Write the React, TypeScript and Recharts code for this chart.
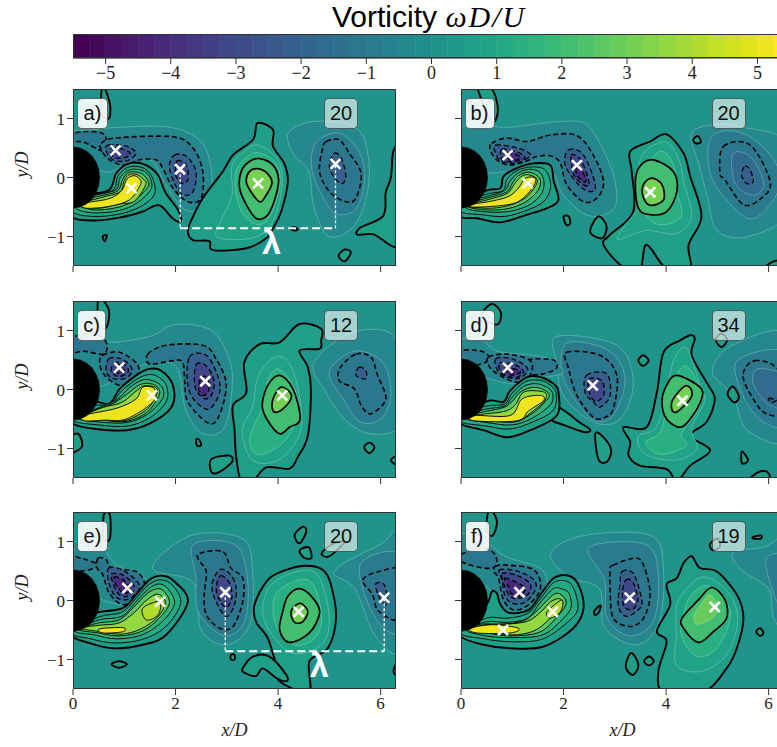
import React from "react"
import { ScatterChart, Scatter, XAxis, YAxis, CartesianGrid, ReferenceArea, Label } from "recharts"

type Contour = [number, number[]]

// colorbar
const CBAR_MIN = -5.5
const CBAR_STEP = 0.25
const CBAR_BANDS = 44
const CBAR_TICKS = [-5, -4, -3, -2, -1, 0, 1, 2, 3, 4, 5]
const VIRIDIS = ["#440154", "#471365", "#482475", "#463480", "#414487", "#3b528b", "#355f8d", "#2f6c8e", "#2a788e", "#25848e", "#21918c", "#1e9c89", "#22a884", "#2fb47c", "#44bf70", "#5ec962", "#7ad151", "#9bd93c", "#bddf26", "#dfe318", "#fde725"]

const X_TICKS = [0, 2, 4, 6]
const Y_TICKS = [-1, 0, 1]

const cylinder = [0, 0.52, 0.14, 0.5, 0.26, 0.45, 0.37, 0.37, 0.45, 0.26, 0.5, 0.14, 0.52, 0, 0.5, -0.14, 0.45, -0.26, 0.37, -0.37, 0.26, -0.45, 0.14, -0.5, 0, -0.52]

// level, then x,y pairs
const contoursA: Contour[] = [
  [-0.25, [-0.1, 0.75, 0.3, 0.8, 0.9, 0.85, 1.9, 0.85, 2.5, 0.6, 2.7, 0.1, 2.65, -0.45, 2.2, -0.55, 1.8, -0.1, 1.5, 0.3, 0.9, 0.15, 0.6, 0.1, 0, 0.3]],
  [-0.25, [4.2, 0.75, 4.7, 0.95, 5.5, 0.85, 5.75, 0.4, 5.75, -0.2, 5.5, -0.8, 5, -1, 4.7, -0.5, 4.6, 0.1, 4.3, 0.4]],
  [-0.75, [4.75, 0.6, 5.2, 0.75, 5.6, 0.4, 5.68, -0.1, 5.5, -0.55, 5.1, -0.6, 4.8, -0.2, 4.65, 0.2]],
  [-1, [4.94, 0.61, 5.19, 0.64, 5.39, 0.41, 5.62, 0.07, 5.52, -0.35, 5.32, -0.41, 5, -0.24, 4.81, 0.1, 4.87, 0.5]],
  [-2, [5.1, 0.41, 5.23, 0.33, 5.32, 0.05, 5.26, -0.1, 5.1, -0.01, 5, 0.21]],
  [-1, [-0.1, 0.72, 0.3, 0.78, 0.62, 0.72, 0.6, 0.45, 0.2, 0.6, -0.1, 0.6]],
  [-1, [0.55, 0.58, 0.84, 0.67, 1.95, 0.69, 2.34, 0.5, 2.53, 0.1, 2.5, -0.35, 2.24, -0.41, 1.95, -0.18, 1.75, 0.16, 1.62, 0.3, 1.3, 0.3, 1, 0.21, 0.71, 0.3, 0.55, 0.47]],
  [-2, [0.68, 0.55, 1.04, 0.53, 1.23, 0.41, 1.04, 0.28, 0.78, 0.3, 0.65, 0.44]],
  [-2, [1.98, 0.38, 2.21, 0.36, 2.4, 0.1, 2.34, -0.24, 2.14, -0.29, 1.98, -0.1, 1.88, 0.19]],
  [-3, [0.75, 0.5, 1, 0.47, 1.12, 0.4, 0.98, 0.33, 0.78, 0.35]],
  [-3, [2.03, 0.28, 2.2, 0.22, 2.25, -0.02, 2.12, -0.1, 2, 0.05]],
  [0.5, [0, -0.68, 0.4, -0.73, 0.9, -0.68, 1.35, -0.58, 1.68, -0.47, 1.95, -0.7, 2.1, -0.74, 2.05, -0.55, 1.8, -0.25, 1.65, 0.05, 1.4, 0.22, 1.1, 0.24, 0.85, 0.08, 0.72, -0.2, 0.4, -0.27, 0.1, -0.22, -0.1, -0.4]],
  [1, [0, -0.58, 0.4, -0.66, 0.9, -0.62, 1.3, -0.5, 1.58, -0.3, 1.57, -0.05, 1.4, 0.15, 1.1, 0.18, 0.88, 0.03, 0.8, -0.2, 0.5, -0.28, 0.1, -0.3]],
  [1.5, [0.05, -0.52, 0.4, -0.6, 0.9, -0.56, 1.25, -0.43, 1.52, -0.2, 1.5, 0, 1.35, 0.12, 1.1, 0.13, 0.92, 0, 0.85, -0.2, 0.55, -0.28, 0.15, -0.36]],
  [2.5, [0.1, -0.47, 0.45, -0.55, 0.9, -0.5, 1.2, -0.38, 1.47, -0.15, 1.42, 0, 1.3, 0.08, 1.1, 0.09, 0.97, -0.03, 0.88, -0.22, 0.6, -0.3, 0.2, -0.38]],
  [3.5, [0.15, -0.46, 0.5, -0.52, 0.9, -0.45, 1.2, -0.4, 1.42, -0.12, 1.37, -0.03, 1.25, 0.05, 1.1, 0.05, 1, -0.05, 0.92, -0.24, 0.6, -0.33, 0.25, -0.41]],
  [5, [0.2, -0.44, 0.7, -0.36, 0.95, -0.22, 1.05, -0.03, 1.2, 0.03, 1.32, -0.05, 1.3, -0.15, 1.1, -0.38, 0.7, -0.49, 0.25, -0.52]],
  [0.5, [3.6, 0.92, 3.9, 0.81, 3.9, 0.53, 4.12, 0.24, 4.19, -0.07, 4.06, -0.58, 3.9, -0.86, 3.77, -1.03, 3.38, -1.2, 2.73, -1.23, 2.66, -1.08, 2.34, -1.06, 2.24, -0.92, 2.31, -0.72, 2.53, -0.35, 2.92, 0.1, 3.12, 0.38, 3.51, 0.64]],
  [0.75, [3.62, 0.55, 4, 0.3, 4.08, -0.1, 3.95, -0.65, 3.7, -0.95, 3.3, -1.05, 2.8, -1, 2.9, -0.7, 3.1, -0.3, 3.1, 0.2, 3.35, 0.45]],
  [1.25, [3.62, 0.42, 3.95, 0.25, 4.04, -0.1, 3.85, -0.65, 3.6, -0.8, 3.3, -0.6, 3.17, -0.2, 3.2, 0.15, 3.4, 0.35]],
  [2, [3.64, 0.32, 3.9, 0.21, 4.01, -0.04, 3.92, -0.41, 3.77, -0.66, 3.57, -0.69, 3.38, -0.46, 3.25, -0.18, 3.28, 0.1, 3.44, 0.27]],
  [3, [3.6, 0.15, 3.79, 0.07, 3.88, -0.1, 3.73, -0.35, 3.64, -0.41, 3.47, -0.24, 3.38, -0.07, 3.44, 0.1]],
  [0.5, [6.4, 0.45, 6.25, 0.45, 6.2, 0, 6.1, -0.25, 6.05, -0.65, 5.6, -0.85, 5.55, -0.97, 5.85, -0.96, 6.4, -1.1]],
  [0.5, [5.18, -1.33, 5.3, -1.22, 5.42, -1.27, 5.3, -1.42]],
  [0.5, [0.58, 1.55, 0.72, 1.25, 0.7, 1, 0.55, 1.1]],
  [0.5, [4.25, -0.87, 4.32, -0.84, 4.38, -0.88, 4.32, -0.9]],
  [0.5, [0.58, -1, 0.66, -0.98, 0.62, -1.08]],
]
const markersA = [0.83, 0.46, 1.14, -0.18, 2.09, 0.14, 3.61, -0.1, 5.12, 0.23]
const lambdaA = [2.09, 0.14, 2.09, -0.86, 5.12, -0.86, 5.12, 0.23]

const contoursB: Contour[] = [
  [-0.25, [4.5, 0.75, 5, 0.9, 5.5, 0.85, 6.2, 0.7, 6.4, 0.3, 6.4, -0.6, 5.6, -1, 5, -0.9, 4.8, -0.3, 4.65, 0.2]],
  [-0.75, [4.9, 0.7, 5.5, 0.75, 6.1, 0.3, 6.2, -0.2, 5.7, -0.7, 5.2, -0.4, 4.85, 0.1]],
  [-1, [5.12, 0.53, 5.64, 0.55, 6.03, -0.07, 5.86, -0.35, 5.51, -0.46, 5.15, -0.04, 5.05, 0.07]],
  [-1.5, [5.3, 0.4, 5.65, 0.35, 5.9, -0.1, 5.7, -0.3, 5.35, -0.1]],
  [-2, [5.54, 0.19, 5.64, 0.13, 5.7, -0.07, 5.57, -0.1, 5.47, 0.05]],
  [-0.25, [-0.1, 0.8, 0.4, 0.9, 0.9, 0.85, 2, 0.95, 2.5, 0.85, 2.95, 0.1, 3, -0.5, 2.5, -0.65, 2, -0.3, 1.7, 0.15, 0.9, 0.1, 0.5, 0.1, 0, 0.4]],
  [-1, [0.6, 0.58, 0.9, 0.67, 1.29, 0.61, 1.74, 0.72, 2.26, 0.71, 2.58, 0.38, 2.78, -0.07, 2.65, -0.35, 2.39, -0.41, 2.06, -0.12, 1.94, 0.24, 1.74, 0.37, 1.45, 0.35, 1.35, 0.3, 0.96, 0.21, 0.7, 0.3, 0.57, 0.47]],
  [-2, [0.68, 0.55, 1.1, 0.5, 1.36, 0.38, 1.1, 0.25, 0.8, 0.27, 0.67, 0.42]],
  [-2, [2.1, 0.47, 2.39, 0.38, 2.62, -0.12, 2.52, -0.24, 2.29, -0.12, 2.03, 0.21]],
  [-3, [0.8, 0.48, 1.1, 0.43, 1.25, 0.33, 1, 0.27, 0.8, 0.3]],
  [-3, [2.15, 0.38, 2.35, 0.28, 2.5, -0.1, 2.38, -0.12, 2.2, 0.05]],
  [-4, [0.9, 0.42, 1.1, 0.38, 1.15, 0.32, 0.95, 0.3]],
  [-4, [2.28, 0.2, 2.43, 0, 2.4, -0.08, 2.25, 0.05]],
  [0.5, [0, -0.66, 0.31, -0.69, 0.77, -0.76, 1.29, -0.63, 1.68, -0.52, 1.9, -0.38, 1.81, -0.07, 1.74, 0.21, 1.42, 0.24, 1.09, 0.16, 0.83, 0.02, 0.77, -0.18, 0.54, -0.21, 0.12, -0.35]],
  [1, [0, -0.58, 0.4, -0.63, 0.85, -0.66, 1.3, -0.55, 1.62, -0.4, 1.75, -0.15, 1.65, 0.12, 1.4, 0.18, 1.1, 0.12, 0.9, -0.03, 0.82, -0.22, 0.5, -0.28, 0.1, -0.38]],
  [1.5, [0.1, -0.52, 0.45, -0.58, 0.9, -0.58, 1.3, -0.48, 1.55, -0.3, 1.62, -0.1, 1.55, 0.08, 1.35, 0.14, 1.12, 0.08, 0.95, -0.07, 0.85, -0.22, 0.5, -0.32, 0.15, -0.4]],
  [2.5, [0.15, -0.5, 0.5, -0.55, 0.9, -0.53, 1.25, -0.42, 1.5, -0.22, 1.55, -0.05, 1.45, 0.05, 1.3, 0.09, 1.12, 0.03, 1, -0.1, 0.88, -0.25, 0.5, -0.35, 0.2, -0.43]],
  [3.5, [0.25, -0.5, 0.6, -0.52, 0.95, -0.47, 1.25, -0.35, 1.45, -0.15, 1.48, -0.03, 1.35, 0.04, 1.2, 0.03, 1.05, -0.1, 0.9, -0.27, 0.55, -0.37, 0.25, -0.44]],
  [5, [0.18, -0.46, 0.6, -0.4, 0.93, -0.32, 1.12, -0.18, 1.26, -0.01, 1.45, -0.01, 1.42, -0.14, 1.25, -0.32, 1.03, -0.44, 0.6, -0.49, 0.2, -0.5]],
  [0.5, [4.01, 0.73, 4.34, 0.41, 4.47, 0.02, 4.69, -0.66, 4.44, -1.14, 4.47, -1.55, 4.01, -1.55, 3.62, -1.14, 3.49, -1.55, 3.14, -1.5, 2.78, -1.14, 2.91, -0.97, 3.36, -0.58, 3.33, 0.1, 3.3, 0.44, 3.69, 0.61]],
  [0.75, [4, 0.6, 4.25, 0.3, 4.35, -0.1, 4.5, -0.65, 4.2, -0.95, 3.6, -0.9, 3.05, -1.05, 3.3, -0.7, 3.5, -0.45, 3.45, 0.1, 3.6, 0.45]],
  [1.25, [3.9, 0.45, 4.15, 0.2, 4.2, -0.2, 4.3, -0.65, 3.9, -0.8, 3.6, -0.6, 3.6, 0.1]],
  [2, [3.75, 0.3, 4.14, 0.1, 4.21, -0.24, 4.01, -0.58, 3.69, -0.63, 3.46, -0.52, 3.4, -0.07, 3.49, 0.19]],
  [3, [3.72, -0.01, 3.92, -0.12, 3.95, -0.38, 3.69, -0.47, 3.55, -0.32, 3.56, -0.12]],
  [0.5, [2, -0.66, 2.1, -0.66, 2.13, -0.78, 2.05, -0.8]],
  [0.5, [2.52, -0.92, 2.68, -0.66, 2.84, -0.83, 2.75, -1.03]],
  [0.5, [4.53, 0.64, 4.62, 0.7, 4.68, 0.6, 4.58, 0.58]],
  [0.5, [5.95, -1.55, 6.1, -1.42, 6.45, -1.4, 6.45, -1.55]],
  [0.5, [0.32, 1.55, 0.6, 1.5, 0.72, 1.15, 0.6, 0.95]],
]
const markersB = [0.91, 0.38, 1.3, -0.1, 2.26, 0.21, 3.69, -0.25]

const contoursC: Contour[] = [
  [-0.25, [4.7, 0.45, 5.4, 0.95, 6.2, 0.95, 6.4, 0.3, 6.4, -0.6, 5.8, -0.75, 5.3, -0.5, 4.9, 0]],
  [-0.75, [5, 0.3, 5.5, 0.65, 6.05, 0.45, 6.2, -0.1, 6, -0.5, 5.6, -0.55, 5.3, -0.2]],
  [-1, [5.52, 0.6, 5.81, 0.55, 5.94, 0.24, 6.1, -0.16, 5.81, -0.41, 5.62, -0.27, 5.49, 0.01, 5.19, 0.15, 5.22, 0.38]],
  [-2, [5.58, 0.38, 5.71, 0.32, 5.71, 0.18, 5.52, 0.24]],
  [-0.25, [-0.1, 0.8, 0.4, 0.95, 0.7, 0.8, 1.5, 0.9, 2, 1.1, 2.7, 1, 3.05, 0.5, 3.1, 0, 2.95, -0.65, 2.55, -0.75, 2.2, -0.35, 2, 0.4, 1.3, 0.4, 0.5, 0.05, 0, 0.3]],
  [-1, [-0.1, 0.85, 0.4, 0.95, 0.65, 0.8, 0.6, 0.6, 0.2, 0.65, -0.1, 0.6]],
  [-1, [0.58, 0.58, 0.91, 0.63, 1.27, 0.41, 1.2, 0.18, 0.91, 0.07, 0.62, 0.24, 0.52, 0.44]],
  [-2, [0.7, 0.52, 0.95, 0.52, 1.15, 0.35, 1.05, 0.2, 0.8, 0.18, 0.65, 0.3]],
  [-3, [0.8, 0.45, 1, 0.43, 1.08, 0.3, 0.9, 0.22, 0.75, 0.3]],
  [-4, [0.87, 0.42, 0.97, 0.38, 1, 0.3, 0.87, 0.28]],
  [-1, [1.46, 0.6, 1.82, 0.75, 2.53, 0.75, 2.79, 0.52, 2.99, 0.07, 2.82, -0.5, 2.6, -0.55, 2.24, -0.21, 2.18, 0.12, 2.14, 0.46, 1.95, 0.49, 1.5, 0.43]],
  [-2, [2.27, 0.55, 2.6, 0.58, 2.82, 0.24, 2.86, -0.05, 2.66, -0.33, 2.4, -0.21, 2.24, 0.07]],
  [-3, [2.4, 0.42, 2.6, 0.4, 2.75, 0.15, 2.7, -0.1, 2.55, -0.15, 2.38, 0.05]],
  [-4, [2.5, 0.2, 2.62, 0.2, 2.65, 0, 2.55, -0.1, 2.45, 0]],
  [0.5, [0, -0.58, 0.45, -0.67, 1.04, -0.69, 1.49, -0.58, 1.92, -0.3, 1.95, 0.07, 1.72, 0.32, 1.49, 0.35, 1.23, 0.24, 0.91, 0.01, 0.71, -0.24, 0.39, -0.21, 0.05, -0.4]],
  [1, [0, -0.52, 0.5, -0.6, 1.05, -0.62, 1.5, -0.48, 1.82, -0.2, 1.82, 0.07, 1.65, 0.22, 1.45, 0.25, 1.2, 0.15, 0.9, -0.07, 0.75, -0.26, 0.4, -0.28]],
  [1.5, [0.1, -0.48, 0.5, -0.55, 1.05, -0.56, 1.45, -0.42, 1.75, -0.15, 1.73, 0.05, 1.55, 0.15, 1.35, 0.16, 1.1, 0.03, 0.85, -0.18, 0.5, -0.31]],
  [2.5, [0.15, -0.46, 0.6, -0.52, 1.05, -0.54, 1.45, -0.38, 1.68, -0.1, 1.65, 0.04, 1.5, 0.1, 1.3, 0.08, 1.05, -0.08, 0.8, -0.23, 0.5, -0.33, 0.2, -0.4]],
  [3.5, [0.2, -0.46, 0.65, -0.52, 1.05, -0.52, 1.45, -0.33, 1.62, -0.1, 1.62, 0.03, 1.38, 0.06, 1.2, -0.05, 0.95, -0.22, 0.6, -0.3, 0.25, -0.42]],
  [5, [0.2, -0.44, 0.84, -0.32, 1.23, -0.16, 1.36, 0.04, 1.59, 0.01, 1.56, -0.21, 1.04, -0.5, 0.6, -0.52, 0.23, -0.53]],
  [0.5, [4.42, 1.11, 4.84, 1.03, 4.84, 0.83, 4.81, 0.69, 4.42, 0.66, 4.58, 0.38, 4.64, 0.01, 4.58, -0.78, 4.38, -1.15, 4.22, -1.34, 3.77, -1.32, 3.51, -1.55, 3.28, -1.55, 3.18, -1.12, 3.15, -0.67, 3.12, -0.27, 3.38, -0.05, 3.34, 0.46, 3.64, 0.77, 4.03, 0.8]],
  [0.75, [4.1, 0.55, 4.3, 0.3, 4.45, -0.3, 4.4, -0.8, 4, -1.2, 3.5, -1.2, 3.3, -0.7, 3.5, -0.3, 3.6, 0.2, 3.85, 0.5]],
  [1.25, [4, 0.35, 4.3, 0.05, 4.4, -0.4, 4.1, -0.9, 3.6, -1.1, 3.45, -0.8, 3.75, -0.2, 3.8, 0.15]],
  [2, [4.03, 0.24, 4.29, 0.01, 4.43, -0.5, 4.22, -0.64, 4.03, -0.75, 3.8, -0.53, 3.69, -0.27, 3.8, 0.07]],
  [3, [4.06, 0.04, 4.25, -0.07, 4.22, -0.21, 4.03, -0.37, 3.9, -0.36, 3.9, -0.16]],
  [0.5, [5.68, -0.98, 5.78, -0.9, 5.88, -0.98, 5.78, -1.08]],
  [0.5, [2.7, -1.4, 2.7, -1.18, 3.05, -1.12, 3.1, -1.23, 2.85, -1.4]],
  [0.5, [6.2, -1.2, 6.4, -1.1, 6.4, -1.3]],
  [0.5, [0.5, 1.55, 0.7, 1.35, 0.65, 1.05, 0.5, 1.1]],
  [0.5, [-0.1, -0.85, 0.1, -0.75, 0.18, -0.95, 0.05, -1.05, -0.1, -1.1]],
  [0.5, [2.4, -0.85, 2.46, -0.85, 2.5, -0.95, 2.42, -0.95]],
]
const markersC = [0.9, 0.37, 1.54, -0.1, 2.58, 0.14, 4.08, -0.1]

const contoursD: Contour[] = [
  [-0.25, [4.9, 0.3, 5.3, 0.75, 6.4, 0.9, 6.4, -0.8, 5.6, -0.7, 5.3, -0.1]],
  [-0.75, [5.4, 0.5, 6.4, 0.6, 6.4, -0.55, 5.9, -0.55, 5.5, -0.1]],
  [-1, [5.73, 0.49, 6.2, 0.32, 6.4, -0.4, 5.96, -0.41, 5.7, -0.16, 5.5, 0.24]],
  [-1.5, [5.8, 0.35, 6.4, 0.2, 6.4, -0.3, 6, -0.25, 5.7, 0.1]],
  [-2, [6, -0.15, 6.15, -0.18, 6.05, -0.22]],
  [-0.25, [1.87, 0.9, 3.04, 0.75, 3.36, 0.12, 3.1, -0.5, 2.58, -0.55, 2, -0.1, 1.87, 0.46]],
  [-0.75, [2.1, 0.8, 2.9, 0.65, 3.2, 0.15, 2.95, -0.45, 2.55, -0.5, 2.1, 0, 1.95, 0.4]],
  [-0.25, [-0.1, 0.8, 0.4, 0.85, 0.7, 0.65, 1.6, 0.55, 2, 0.3, 1.6, 0.2, 1, 0.1, 0.3, 0.25, -0.1, 0.4]],
  [-1, [-0.1, 0.65, 0.4, 0.65, 0.55, 0.5, 0.2, 0.4, -0.1, 0.45]],
  [-1, [1.3, 0.5, 1.8, 0.5, 1.85, 0.35, 1.5, 0.25, 1.2, 0.3]],
  [-1, [0.54, 0.55, 0.9, 0.6, 1.35, 0.49, 1.35, 0.24, 1.09, 0.12, 0.7, 0.27, 0.54, 0.41]],
  [-2, [0.68, 0.52, 1, 0.52, 1.3, 0.35, 1.1, 0.18, 0.75, 0.28]],
  [-3, [0.75, 0.45, 1.05, 0.42, 1.22, 0.3, 1.05, 0.2, 0.8, 0.28]],
  [-4, [0.85, 0.38, 1.1, 0.33, 1.15, 0.28, 0.95, 0.25]],
  [-1, [2.06, 0.63, 2.71, 0.58, 3.04, 0.24, 2.97, -0.33, 2.81, -0.47, 2.58, -0.47, 2.26, -0.1, 2.1, 0.35]],
  [-2, [2.45, 0.24, 2.84, 0.27, 2.91, -0.1, 2.71, -0.3, 2.58, -0.21, 2.42, -0.05]],
  [-3, [2.5, 0.18, 2.75, 0.15, 2.78, -0.1, 2.62, -0.2, 2.5, -0.05]],
  [0.5, [1.85, -0.3, 2.05, -0.38, 2.3, -0.55, 2.52, -0.68, 2.4, -0.72, 2, -0.6, 1.75, -0.5]],
  [0.5, [0, -0.58, 0.44, -0.69, 0.9, -0.81, 1.35, -0.69, 1.87, -0.44, 1.9, -0.05, 1.8, 0.1, 1.55, 0.21, 1.29, 0.21, 0.96, -0.02, 0.83, -0.21, 0.54, -0.19, 0.1, -0.38]],
  [1, [0, -0.55, 0.5, -0.62, 0.95, -0.67, 1.4, -0.55, 1.8, -0.35, 1.85, -0.05, 1.7, 0.1, 1.5, 0.16, 1.25, 0.13, 0.98, -0.08, 0.85, -0.25, 0.5, -0.28, 0.1, -0.4]],
  [1.5, [0.1, -0.5, 0.5, -0.56, 1, -0.6, 1.4, -0.48, 1.75, -0.25, 1.78, -0.05, 1.65, 0.05, 1.45, 0.1, 1.22, 0.05, 1, -0.13, 0.85, -0.28, 0.5, -0.33, 0.15, -0.42]],
  [2.5, [0.15, -0.47, 0.6, -0.53, 1.05, -0.55, 1.4, -0.4, 1.65, -0.2, 1.72, -0.08, 1.55, 0.02, 1.35, 0.03, 1.15, -0.05, 1, -0.2, 0.85, -0.3, 0.5, -0.37, 0.2, -0.42]],
  [3.5, [0.2, -0.48, 0.65, -0.52, 1.1, -0.54, 1.35, -0.4, 1.62, -0.2, 1.65, -0.06, 1.4, -0.02, 1.2, -0.06, 1.05, -0.27, 0.85, -0.37, 0.5, -0.41, 0.22, -0.44]],
  [5, [0.25, -0.44, 0.96, -0.44, 1.19, -0.16, 1.55, -0.1, 1.61, -0.19, 1.32, -0.36, 1.09, -0.53, 0.25, -0.53]],
  [0.5, [2.62, -0.75, 2.78, -0.81, 2.93, -1.03, 2.84, -1.23, 2.68, -1.18]],
  [0.5, [4.47, 0.92, 4.56, 0.86, 4.5, 0.58, 4.79, 0.12, 4.95, -0.16, 4.79, -0.55, 4.47, -0.78, 4.86, -1.03, 4.47, -1.29, 4.21, -1.55, 4.01, -1.35, 3.49, -1.29, 3.27, -1.12, 3.3, -0.89, 3.17, -0.64, 3.62, -0.64, 3.82, -0.05, 3.95, 0.63, 4.27, 0.83]],
  [0.75, [4.4, 0.7, 4.65, 0.1, 4.75, -0.2, 4.5, -0.65, 4.6, -1, 4.2, -1.2, 3.6, -1.1, 3.45, -0.8, 3.8, -0.65, 4, -0.1, 4.15, 0.5]],
  [1.25, [4.35, 0.4, 4.65, 0.05, 4.65, -0.3, 4.3, -0.75, 4.4, -0.95, 3.9, -1.1, 3.6, -0.9, 3.9, -0.7, 4.05, -0.1]],
  [2, [4.21, 0.24, 4.66, 0.04, 4.69, -0.16, 4.47, -0.5, 4.27, -0.64, 4.01, -0.5, 3.92, -0.21, 4.01, 0.07]],
  [3, [4.37, 0.06, 4.5, -0.02, 4.47, -0.16, 4.21, -0.38, 4.11, -0.33, 4.14, -0.16]],
  [0.5, [3.46, 0.49, 3.55, 0.58, 3.66, 0.49, 3.55, 0.4]],
  [0.5, [5.2, -0.08, 5.3, 0.05, 5.42, -0.12, 5.33, -0.22]],
  [0.5, [4.97, 0.84, 5.08, 0.95, 5.19, 0.84, 5.08, 0.72]],
  [0.5, [5.48, -1.05, 5.6, -1.2, 5.48, -1.25]],
  [0.5, [5.62, -1.55, 5.8, -1.4, 5.98, -1.4, 6, -1.55]],
  [0.5, [0.4, 1.25, 0.6, 1.45, 0.78, 1.3, 0.7, 1.1]],
]
const markersD = [0.91, 0.37, 2.57, 0.07, 4.32, -0.19]

const contoursE: Contour[] = [
  [-0.25, [5.1, 0.5, 6, 0.95, 6.4, 1.1, 6.4, -0.8, 5.9, -0.6, 5.5, 0.2]],
  [-0.75, [5.6, 0.6, 6.4, 0.75, 6.4, -0.5, 5.9, -0.3]],
  [-1, [5.65, 0.35, 5.97, 0.49, 6.4, 0.49, 6.4, -0.3, 5.97, -0.19, 5.84, 0.1]],
  [-2, [5.9, 0.27, 6.07, 0.27, 6.14, -0.07, 6, 0.01]],
  [-0.25, [1.55, 0.55, 2.3, 1.1, 3.3, 1.05, 3.5, 0.5, 3.45, -0.4, 3, -0.75, 2.5, -0.5, 2.35, 0.3]],
  [-0.75, [2.35, 0.95, 3.15, 0.95, 3.4, 0.4, 3.35, -0.35, 2.95, -0.6, 2.45, -0.2, 2.4, 0.4]],
  [-0.25, [-0.1, 0.95, 0.5, 0.95, 0.85, 0.6, 1.5, 0.3, 1.2, -0.05, 0.6, 0, 0, 0.3, -0.1, 0.5]],
  [-1, [-0.1, 0.75, 0.15, 0.72, 0.5, 0.6, 0.2, 0.5, -0.1, 0.55]],
  [-1, [0.49, 0.72, 0.65, 0.69, 0.75, 0.55, 1.23, 0.49, 1.4, 0.27, 1.27, 0.04, 0.97, -0.07, 0.71, 0.12, 0.58, 0.44, 0.47, 0.55]],
  [-2, [0.7, 0.55, 1, 0.5, 1.3, 0.25, 1.1, 0.03, 0.85, 0.05, 0.7, 0.3]],
  [-3, [0.75, 0.45, 1, 0.42, 1.2, 0.22, 1.05, 0.07, 0.88, 0.12, 0.78, 0.3]],
  [-4, [0.8, 0.4, 0.98, 0.35, 1.12, 0.2, 1, 0.12, 0.85, 0.25]],
  [-1, [2.47, 0.8, 2.92, 0.83, 3.08, 0.55, 3.31, 0.38, 3.31, -0.02, 3.12, -0.44, 2.86, -0.47, 2.6, -0.24, 2.56, 0.1, 2.6, 0.49, 2.45, 0.69]],
  [-2, [2.86, 0.52, 3.05, 0.46, 3.18, 0.24, 3.15, -0.07, 2.99, -0.27, 2.79, -0.02, 2.71, 0.27]],
  [-3, [2.88, 0.42, 3.05, 0.3, 3.1, 0.05, 2.98, -0.12, 2.82, 0.08, 2.8, 0.25]],
  [0.5, [0, -0.61, 0.32, -0.72, 0.78, -0.81, 1.36, -0.75, 1.82, -0.58, 2.24, -0.02, 1.98, 0.32, 1.75, 0.42, 1.49, 0.35, 1.23, 0.1, 0.97, -0.13, 0.45, -0.21, 0.1, -0.4]],
  [1, [0, -0.55, 0.35, -0.65, 0.8, -0.72, 1.35, -0.66, 1.8, -0.45, 2.1, -0.05, 1.95, 0.25, 1.72, 0.35, 1.48, 0.27, 1.22, 0.03, 0.95, -0.2, 0.5, -0.28]],
  [1.5, [0.05, -0.52, 0.4, -0.58, 0.85, -0.65, 1.35, -0.58, 1.75, -0.35, 1.98, -0.05, 1.85, 0.2, 1.68, 0.28, 1.48, 0.2, 1.22, -0.03, 0.95, -0.27, 0.5, -0.33]],
  [2.5, [0.1, -0.49, 0.5, -0.55, 0.9, -0.6, 1.35, -0.52, 1.68, -0.3, 1.88, -0.05, 1.78, 0.15, 1.65, 0.2, 1.45, 0.12, 1.2, -0.1, 0.9, -0.33, 0.5, -0.38]],
  [3.5, [0.15, -0.47, 0.55, -0.53, 0.95, -0.57, 1.33, -0.48, 1.65, -0.28, 1.8, -0.05, 1.72, 0.08, 1.6, 0.1, 1.4, -0.02, 1.2, -0.2, 0.9, -0.38, 0.5, -0.42]],
  [4, [1.36, -0.13, 1.69, -0.02, 1.66, -0.24, 1.43, -0.33]],
  [5, [0.52, -0.48, 0.97, -0.46, 0.97, -0.53, 0.58, -0.55]],
  [0.5, [4.55, 0.59, 4.87, 0.52, 5.03, 0.27, 5.13, -0.3, 4.97, -0.81, 4.61, -1.03, 4.6, -1.55, 4.03, -1.37, 3.96, -1.09, 3.8, -0.64, 3.57, -0.36, 3.54, -0.07, 3.8, 0.35, 4.16, 0.52]],
  [0.75, [4.4, 0.5, 4.8, 0.4, 5, -0.3, 4.85, -0.75, 4.3, -0.9, 3.9, -0.6, 3.7, -0.2, 3.85, 0.25]],
  [1.25, [4.4, 0.35, 4.7, 0.25, 4.85, -0.3, 4.7, -0.65, 4.3, -0.75, 3.95, -0.4, 3.95, 0.1]],
  [2, [4.42, 0.2, 4.68, 0.04, 4.81, -0.21, 4.61, -0.55, 4.22, -0.71, 4.03, -0.5, 4.09, -0.19, 4.19, 0.07]],
  [3, [4.45, -0.05, 4.58, -0.19, 4.48, -0.36, 4.32, -0.37, 4.25, -0.21, 4.32, -0.1]],
  [0.5, [3.31, -1.15, 3.51, -0.95, 3.83, -0.95, 4.16, -1.26, 4.16, -1.37, 3.96, -1.31, 3.7, -1.15, 3.57, -1.28, 3.34, -1.22]],
  [0.5, [4.32, 1.11, 4.48, 1.25, 4.55, 1.17, 4.42, 0.97]],
  [0.5, [4.42, 0.85, 4.6, 0.9, 4.65, 0.72, 4.5, 0.73]],
  [0.5, [4.85, 0.8, 5.05, 0.95, 5.3, 1, 5, 0.75]],
  [0.5, [0.75, -1.08, 0.9, -1.03, 1.05, -1.08, 0.9, -1.14]],
  [0.5, [3.08, -0.92, 3.15, -0.92, 3.15, -1, 3.08, -1]],
  [0.5, [6.25, -1.2, 6.4, -0.95, 6.4, -1.3]],
  [0.5, [0.6, 1.45, 0.72, 1.45, 0.72, 1.05, 0.6, 1.05]],
]
const markersE = [1.06, 0.21, 1.7, -0.02, 2.97, 0.14, 4.4, -0.19, 6.07, 0.05]
const lambdaE = [2.97, 0.14, 2.97, -0.86, 6.07, -0.86, 6.07, 0.05]

const contoursF: Contour[] = [
  [-0.25, [5.3, 0.8, 5.9, 0.9, 6.4, 1, 6.4, -0.5, 6.1, -0.3, 6, 0.2, 5.5, 0.5]],
  [-0.75, [5.95, 0.7, 6.4, 0.7, 6.4, -0.2, 6.15, 0]],
  [-0.25, [1.75, 0.8, 2.4, 1.1, 3.7, 1.1, 3.95, 0.5, 3.85, -0.4, 3.4, -0.75, 2.8, -0.45, 2.7, 0.2, 2.1, 0.4]],
  [-0.75, [2.5, 0.9, 3.6, 0.95, 3.85, 0.4, 3.75, -0.35, 3.3, -0.6, 2.85, -0.3, 2.8, 0.35]],
  [-0.25, [-0.1, 1.1, 0.4, 1.05, 0.85, 0.75, 1.6, 0.5, 1.6, -0.05, 0.8, -0.2, 0.55, 0.2, 0, 0.55]],
  [-1, [0, 0.78, 0.44, 0.89, 0.67, 0.77, 0.67, 0.58, 0.44, 0.55, 0, 0.66]],
  [-1, [0.67, 0.58, 0.9, 0.6, 1.42, 0.52, 1.55, 0.21, 1.32, -0.07, 1.03, -0.16, 0.83, 0.01, 0.73, 0.38, 0.64, 0.49]],
  [-2, [0.75, 0.52, 1.1, 0.5, 1.42, 0.35, 1.45, 0.18, 1.25, -0.03, 1, -0.05, 0.85, 0.1, 0.8, 0.35]],
  [-3, [0.8, 0.45, 1.1, 0.42, 1.35, 0.28, 1.3, 0.1, 1.05, 0.03, 0.9, 0.15]],
  [-4, [0.85, 0.38, 1.1, 0.3, 1.25, 0.2, 1.15, 0.08, 0.98, 0.12, 0.92, 0.25]],
  [-1, [2.97, 0.6, 3.42, 0.72, 3.58, 0.55, 3.69, 0.1, 3.56, -0.3, 3.3, -0.44, 2.97, -0.3, 2.91, 0.15, 2.91, 0.52]],
  [-2, [3.14, 0.49, 3.36, 0.46, 3.52, 0.04, 3.49, -0.13, 3.23, -0.27, 3.07, -0.1, 3.1, 0.27]],
  [-3, [3.22, 0.35, 3.36, 0.3, 3.45, 0.02, 3.35, -0.15, 3.18, -0.1, 3.15, 0.15]],
  [0.5, [0, -0.61, 0.44, -0.75, 0.96, -0.81, 1.61, -0.78, 2.19, -0.47, 2.39, -0.13, 2.29, 0.27, 2.1, 0.42, 1.81, 0.38, 1.55, 0.1, 1.32, -0.16, 0.94, -0.21, 0.77, -0.07, 0.7, 0.12, 0.6, 0.15, 0.5, -0.07, 0.1, -0.4]],
  [1, [0, -0.55, 0.45, -0.65, 1, -0.7, 1.6, -0.65, 2.1, -0.35, 2.28, -0.13, 2.2, 0.2, 2.05, 0.33, 1.8, 0.3, 1.55, 0.03, 1.3, -0.22, 0.9, -0.3, 0.5, -0.3]],
  [1.5, [0.1, -0.5, 0.5, -0.6, 1, -0.63, 1.6, -0.58, 2, -0.3, 2.15, -0.1, 2.1, 0.13, 1.95, 0.2, 1.8, 0.2, 1.55, -0.03, 1.3, -0.3, 0.9, -0.37, 0.5, -0.36]],
  [2.5, [0.15, -0.47, 0.5, -0.55, 1, -0.6, 1.55, -0.53, 1.9, -0.25, 2.05, -0.05, 1.98, 0.08, 1.85, 0.12, 1.7, 0.02, 1.45, -0.2, 1.2, -0.35, 0.8, -0.4, 0.4, -0.4]],
  [3.5, [0.2, -0.47, 0.6, -0.55, 1.1, -0.58, 1.5, -0.48, 1.85, -0.2, 1.98, -0.05, 1.92, 0.03, 1.75, -0.02, 1.55, -0.2, 1.3, -0.35, 0.9, -0.4, 0.5, -0.41]],
  [4, [1.68, -0.19, 1.97, 0.01, 1.94, -0.19, 1.74, -0.3]],
  [5, [0.18, -0.47, 0.64, -0.41, 1.12, -0.47, 0.96, -0.55, 0.31, -0.55]],
  [0.5, [4.5, 0.75, 4.66, 0.55, 4.99, 0.49, 5.38, 0.1, 5.51, -0.3, 5.38, -0.81, 5.18, -1.15, 4.73, -1.55, 3.95, -1.55, 3.85, -1.2, 4.01, -0.69, 3.82, -0.52, 4.08, -0.07, 4.01, 0.27, 4.21, 0.38, 4.34, 0.63]],
  [0.75, [4.75, 0.4, 5.2, 0.15, 5.4, -0.3, 5.2, -0.9, 4.7, -1.2, 4.2, -1.1, 4.2, -0.6, 4.2, -0.1, 4.4, 0.2]],
  [1.25, [4.8, 0.25, 5.15, 0, 5.25, -0.3, 5, -0.8, 4.6, -0.95, 4.3, -0.6, 4.35, -0.2, 4.5, 0.1]],
  [2, [4.89, 0.22, 5.15, 0.01, 5.18, -0.3, 4.92, -0.53, 4.63, -0.71, 4.34, -0.47, 4.31, -0.3, 4.63, 0.01]],
  [2.75, [4.85, 0.1, 5, -0.1, 4.9, -0.3, 4.6, -0.4, 4.55, -0.25, 4.7, -0.05]],
  [0.5, [3.23, -1.03, 3.33, -0.89, 3.46, -1.09, 3.36, -1.26, 3.23, -1.17]],
  [0.5, [3.57, -1.03, 3.67, -0.95, 3.76, -1.03, 3.67, -1.1]],
  [0.5, [2.6, -0.18, 2.72, -0.08, 2.7, -0.18, 2.62, -0.25]],
  [0.5, [0.55, 1.55, 0.7, 1.35, 0.62, 1.1, 0.5, 1.2]],
  [0.5, [5.76, -0.53, 5.83, -0.47, 5.9, -0.55, 5.83, -0.6]],
  [0.5, [5.7, 1.08, 5.85, 1.1, 5.85, 1.05, 5.7, 1.05]],
  [0.5, [4.85, 0.95, 5, 1.05, 5.05, 0.92, 4.92, 0.85]],
]
const markersF = [1.14, 0.14, 0.82, -0.5, 1.79, -0.19, 3.29, 0.05, 4.95, -0.11]

const toPoints = (flat: number[]) => {
  const pts: { x: number; y: number }[] = []
  for (let i = 0; i < flat.length; i += 2) pts.push({ x: flat[i], y: flat[i + 1] })
  return pts
}

const bandColor = (i: number) => {
  const t = (Math.max(0, Math.min(CBAR_BANDS - 1, i)) / (CBAR_BANDS - 1)) * (VIRIDIS.length - 1)
  const lo = Math.floor(t)
  const hi = Math.min(VIRIDIS.length - 1, lo + 1)
  const f = t - lo
  const ch = (hex: string, p: number) => parseInt(hex.slice(p, p + 2), 16)
  const mix = (p: number) => Math.round(ch(VIRIDIS[lo], p) * (1 - f) + ch(VIRIDIS[hi], p) * f)
  return `rgb(${mix(1)},${mix(3)},${mix(5)})`
}

const levelFill = (level: number) => {
  const inner = level > 0 ? level + 0.125 : level - 0.125
  return bandColor(Math.floor((inner - CBAR_MIN) / CBAR_STEP))
}

// multiples of 0.5 (positive) or integers (negative) get the black lines
const levelStroke = (level: number) => {
  const fill = levelFill(level)
  if (level < 0) {
    if (Number.isInteger(level)) return { fill, stroke: "#000", strokeWidth: level === -1 ? 1.6 : 1.3, strokeDasharray: "5 3" }
    return { fill, stroke: "rgba(255,255,255,0.4)", strokeWidth: 0.6 }
  }
  if (!Number.isInteger(level * 2)) return { fill, stroke: "rgba(255,255,255,0.4)", strokeWidth: 0.6 }
  const strokeWidth = level === 0.5 ? 1.9 : level === 2 || level === 3 ? 1.7 : 0.9
  return { fill, stroke: "#000", strokeWidth }
}

// closed curve through every read point, the stock closed basis pulls the outline inward
const closedPath = (points: { x: number; y: number }[]) => {
  const n = points.length
  let d = `M${points[0].x} ${points[0].y}`
  for (let i = 0; i < n; i++) {
    const p0 = points[(i - 1 + n) % n]
    const p1 = points[i]
    const p2 = points[(i + 1) % n]
    const p3 = points[(i + 2) % n]
    d += `C${p1.x + (p2.x - p0.x) / 6} ${p1.y + (p2.y - p0.y) / 6} ${p2.x - (p3.x - p1.x) / 6} ${p2.y - (p3.y - p1.y) / 6} ${p2.x} ${p2.y}`
  }
  return d + "Z"
}

const contourLine = (level: number) => (props: any) => <path d={closedPath(props.points)} {...levelStroke(level)} />

const noDot = () => <g />
const CrossDot = ({ cx, cy }: any) => (
  <path d={`M${cx - 5} ${cy - 5}L${cx + 5} ${cy + 5}M${cx - 5} ${cy + 5}L${cx + 5} ${cy - 5}`} stroke="#fff" strokeWidth={2.6} fill="none" />
)
const LambdaGlyph = ({ cx, cy }: any) => (
  <text x={cx} y={cy} fill="#fff" fontFamily="Liberation Sans" fontWeight="bold" fontSize={34} textAnchor="middle" dominantBaseline="middle">λ</text>
)

const SERIF = "Liberation Serif"
const SANS = "Liberation Sans"
const fmtTick = (v: number) => String(v).replace("-", "−")

const PLOT_W = 323
const PLOT_H = 177
const LEFT_COLS = [73, 460.5]
const TOP_ROWS = [89, 300.5, 512]

interface PanelProps {
  col: number
  row: number
  label: string
  count: string
  contours: Contour[]
  markers: number[]
  lambda?: number[]
  lambdaAt?: number[]
  labelW: number
}

function Panel({ col, row, label, count, contours, markers, lambda, lambdaAt, labelW }: PanelProps) {
  const left = LEFT_COLS[col]
  const top = TOP_ROWS[row]
  const isBottom = row === 2
  const pts = lambda ? toPoints(lambda) : []
  return (
    <>
      <div style={{ position: "absolute", left: left - 60, top: top - 5 }}>
        <ScatterChart width={60 + PLOT_W + 10} height={5 + PLOT_H + 56} margin={{ top: 5, right: 10, bottom: 0, left: 0 }}>
          <CartesianGrid horizontal={false} vertical={false} fill={bandColor(22)} />
          <XAxis
            type="number"
            dataKey="x"
            domain={[0, 6.3]}
            allowDataOverflow
            ticks={X_TICKS}
            height={56}
            axisLine={false}
            tickLine={{ stroke: "#333" }}
            tick={{ fill: "#222", fontFamily: SERIF, fontSize: 17 }}
            tickFormatter={isBottom ? fmtTick : () => ""}
          >
            {isBottom && <Label value="x/D" position="insideBottom" offset={9} fill="#222" fontFamily={SERIF} fontStyle="italic" fontSize={18} />}
          </XAxis>
          <YAxis
            type="number"
            dataKey="y"
            domain={[-1.5, 1.5]}
            allowDataOverflow
            ticks={Y_TICKS}
            width={60}
            axisLine={false}
            tickLine={{ stroke: "#333" }}
            tick={{ fill: "#222", fontFamily: SERIF, fontSize: 17 }}
            tickFormatter={col === 0 ? fmtTick : () => ""}
          >
            {col === 0 && <Label value="y/D" angle={-90} position="insideLeft" offset={9} fill="#222" fontFamily={SERIF} fontStyle="italic" fontSize={18} />}
          </YAxis>
          {contours.map(([level, flat], i) => (
            <Scatter key={i} data={toPoints(flat)} line={contourLine(level)} shape={noDot} isAnimationActive={false} />
          ))}
          <Scatter data={toPoints(cylinder)} line={{ fill: "#000", stroke: "#000", strokeWidth: 0.5 }} lineJointType="linearClosed" shape={noDot} isAnimationActive={false} />
          {lambda && (
            <Scatter data={pts.slice(0, 2)} line={{ stroke: "#fff", strokeWidth: 1.3, strokeDasharray: "3 2" }} shape={noDot} isAnimationActive={false} />
          )}
          {lambda && (
            <Scatter data={pts.slice(2, 4)} line={{ stroke: "#fff", strokeWidth: 1.3, strokeDasharray: "3 2" }} shape={noDot} isAnimationActive={false} />
          )}
          {lambda && (
            <Scatter data={pts.slice(1, 3)} line={{ stroke: "#fff", strokeWidth: 2.2, strokeDasharray: "8 4" }} shape={noDot} isAnimationActive={false} />
          )}
          {lambdaAt && <Scatter data={toPoints(lambdaAt)} shape={LambdaGlyph} isAnimationActive={false} />}
          <Scatter data={toPoints(markers)} shape={CrossDot} isAnimationActive={false} />
        </ScatterChart>
      </div>
      <div style={{ position: "absolute", left, top, width: PLOT_W, height: PLOT_H, border: "1px solid #333", boxSizing: "border-box", pointerEvents: "none" }} />
      <div
        style={{
          position: "absolute", left: left + 4, top: top + 9, width: labelW, height: 31, boxSizing: "border-box",
          background: "rgba(255,255,255,0.9)", border: "1px solid rgba(40,40,40,0.7)", borderRadius: 5,
          fontFamily: SANS, fontSize: 20, lineHeight: "29px", textAlign: "center", color: "#111",
        }}
      >
        {label}
      </div>
      <div
        style={{
          position: "absolute", left: left + 251, top: top + 9, width: 34, height: 31, boxSizing: "border-box",
          background: "rgba(255,255,255,0.6)", border: "1px solid rgba(40,40,40,0.7)", borderRadius: 5,
          fontFamily: SANS, fontSize: 20, lineHeight: "29px", textAlign: "center", color: "#111",
        }}
      >
        {count}
      </div>
    </>
  )
}

const bands = Array.from({ length: CBAR_BANDS }, (_, i) => i)
const cbarExtent = [CBAR_MIN, 0, 5.5, 1]

export default function App() {
  return (
    <div style={{ position: "absolute", left: 0, top: 0, width: 777, height: 747, overflow: "hidden", background: "#fff" }}>
      <div style={{ position: "absolute", left: 332, top: 0, whiteSpace: "nowrap", fontSize: 30, lineHeight: "34px", color: "#000" }}>
        <span style={{ fontFamily: SANS }}>Vorticity </span>
        <span style={{ fontFamily: SERIF, fontStyle: "italic", letterSpacing: 2 }}>ωD/U</span>
      </div>
      <div style={{ position: "absolute", left: 73, top: 34 }}>
        <ScatterChart width={717} height={54} margin={{ top: 0, right: 0, bottom: 0, left: 0 }}>
          <XAxis
            type="number"
            dataKey="x"
            domain={[CBAR_MIN, 5.5]}
            ticks={CBAR_TICKS}
            height={30}
            axisLine={{ stroke: "#333" }}
            tickLine={{ stroke: "#333" }}
            tick={{ fill: "#222", fontFamily: SERIF, fontSize: 18 }}
            tickFormatter={fmtTick}
          />
          <YAxis type="number" dataKey="y" domain={[0, 1]} hide />
          {bands.map((i) => (
            <ReferenceArea key={i} x1={CBAR_MIN + i * CBAR_STEP} x2={CBAR_MIN + (i + 1) * CBAR_STEP} y1={0} y2={1} fill={bandColor(i)} fillOpacity={1} stroke={bandColor(i)} strokeWidth={0.6} />
          ))}
          <Scatter data={toPoints(cbarExtent)} shape={noDot} isAnimationActive={false} />
        </ScatterChart>
      </div>
      <div style={{ position: "absolute", left: 73, top: 34, width: 717, height: 24, border: "1px solid #333", boxSizing: "border-box", pointerEvents: "none" }} />

      <Panel col={0} row={0} label="a)" count="20" contours={contoursA} markers={markersA} lambda={lambdaA} lambdaAt={[3.87, -1.14]} labelW={31} />
      <Panel col={1} row={0} label="b)" count="20" contours={contoursB} markers={markersB} labelW={30} />
      <Panel col={0} row={1} label="c)" count="12" contours={contoursC} markers={markersC} labelW={29} />
      <Panel col={1} row={1} label="d)" count="34" contours={contoursD} markers={markersD} labelW={30} />
      <Panel col={0} row={2} label="e)" count="20" contours={contoursE} markers={markersE} lambda={lambdaE} lambdaAt={[4.8, -1.15]} labelW={31} />
      <Panel col={1} row={2} label="f)" count="19" contours={contoursF} markers={markersF} labelW={25} />
    </div>
  )
}
